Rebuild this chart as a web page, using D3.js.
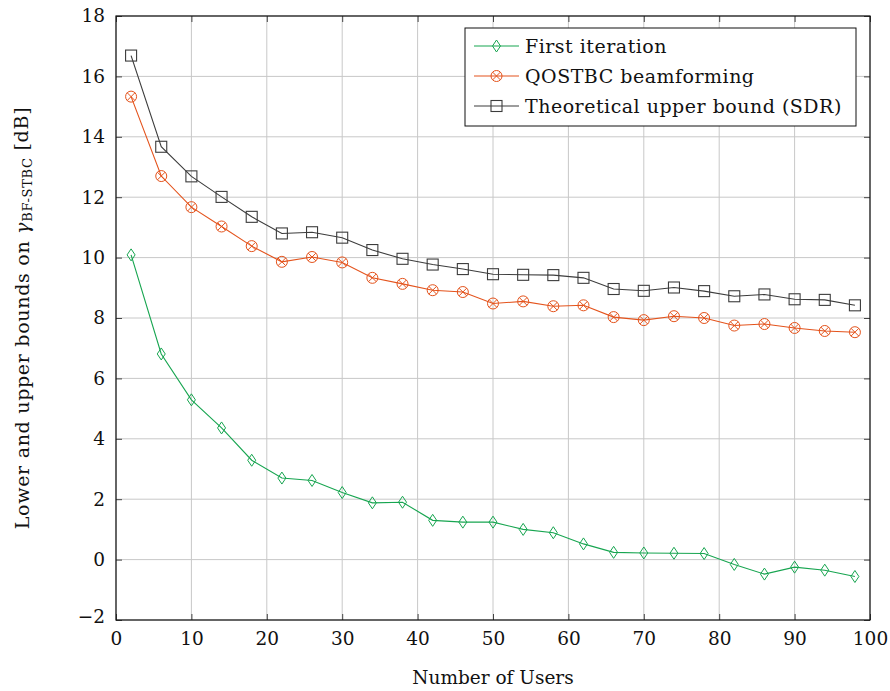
<!DOCTYPE html>
<html>
<head>
<meta charset="utf-8">
<script src="https://cdn.jsdelivr.net/npm/d3@7"></script>
<style>
  body { margin: 0; background: #fff; }
  svg text { font-family: "DejaVu Serif", "Liberation Serif", serif; fill: #111; }
</style>
</head>
<body>
<svg id="chart" width="890" height="691"></svg>
<script>
'use strict';

// number of users on the x axis
const users = [2, 6, 10, 14, 18, 22, 26, 30, 34, 38, 42, 46, 50, 54, 58, 62, 66, 70, 74, 78, 82, 86, 90, 94, 98];

const firstIteration = [10.09, 6.81, 5.29, 4.36, 3.29, 2.70, 2.62, 2.22, 1.88, 1.90, 1.30, 1.24, 1.24,
  1.00, 0.89, 0.52, 0.24, 0.22, 0.21, 0.20, -0.16, -0.48, -0.25, -0.35, -0.56];
const qostbc = [15.33, 12.70, 11.67, 11.03, 10.38, 9.86, 10.02, 9.84, 9.33, 9.13, 8.92, 8.86, 8.48,
  8.55, 8.39, 8.42, 8.03, 7.93, 8.06, 8.00, 7.75, 7.80, 7.67, 7.57, 7.53];
const sdrBound = [16.69, 13.67, 12.69, 12.01, 11.35, 10.80, 10.84, 10.66, 10.25, 9.96, 9.77, 9.62, 9.45,
  9.43, 9.42, 9.33, 8.96, 8.90, 9.01, 8.89, 8.72, 8.78, 8.62, 8.60, 8.42];

const xTicks = [0, 10, 20, 30, 40, 50, 60, 70, 80, 90, 100];
const yTicks = [-2, 0, 2, 4, 6, 8, 10, 12, 14, 16, 18];

const SERIES = [
  {name: 'First iteration', values: firstIteration, color: '#17a550', marker: 'diamond'},
  {name: 'QOSTBC beamforming', values: qostbc, color: '#e4531c', marker: 'otimes'},
  {name: 'Theoretical upper bound (SDR)', values: sdrBound, color: '#3c3c3c', marker: 'square'}
];

const svg = d3.select('#chart');
const M = {left: 116, right: 20, top: 16, bottom: 71};
const W = 890 - M.left - M.right;
const H = 691 - M.top - M.bottom;

const x = d3.scaleLinear().domain([0, 100]).range([0, W]);
const y = d3.scaleLinear().domain([-2, 18]).range([H, 0]);

const g = svg.append('g').attr('transform', 'translate(' + M.left + ',' + M.top + ')');

// grid
g.append('g').selectAll('line').data(xTicks).join('line')
  .attr('x1', d => x(d)).attr('x2', d => x(d)).attr('y1', 0).attr('y2', H)
  .attr('stroke', '#c8c8c8').attr('stroke-width', 1);
g.append('g').selectAll('line').data(yTicks).join('line')
  .attr('y1', d => y(d)).attr('y2', d => y(d)).attr('x1', 0).attr('x2', W)
  .attr('stroke', '#c8c8c8').attr('stroke-width', 1);

// axes, ticks pointing inward
const fmt = d => d < 0 ? '\u2212' + Math.abs(d) : String(d);
const xAxis = g.append('g').attr('transform', 'translate(0,' + H + ')')
  .call(d3.axisBottom(x).tickValues(xTicks).tickSize(-6).tickPadding(12).tickFormat(fmt));
const yAxis = g.append('g')
  .call(d3.axisLeft(y).tickValues(yTicks).tickSize(-6).tickPadding(11).tickFormat(fmt));
g.append('g').call(d3.axisTop(x).tickValues(xTicks).tickSize(-6).tickFormat(''));
g.append('g').attr('transform', 'translate(' + W + ',0)')
  .call(d3.axisRight(y).tickValues(yTicks).tickSize(-6).tickFormat(''));
g.selectAll('.domain').remove();
g.selectAll('.tick line').attr('stroke', '#444');
xAxis.selectAll('text').attr('font-size', 18.5);
yAxis.selectAll('text').attr('font-size', 18.5);
yAxis.selectAll('.tick').filter(d => d === -2).select('text').attr('dy', '0.15em');

g.append('rect').attr('width', W).attr('height', H)
  .attr('fill', 'none').attr('stroke', '#111').attr('stroke-width', 1.2);

// markers, open like pgfplots
function drawMarker(sel, type, color) {
  if (type === 'diamond') {
    sel.append('path').attr('d', 'M0,-6L4,0L0,6L-4,0Z')
      .attr('fill', 'none').attr('stroke', color).attr('stroke-width', 1);
  } else if (type === 'otimes') {
    sel.append('circle').attr('r', 5.5).attr('fill', 'none').attr('stroke', color).attr('stroke-width', 1);
    sel.append('path').attr('d', 'M-3.9,-3.9L3.9,3.9M-3.9,3.9L3.9,-3.9')
      .attr('stroke', color).attr('stroke-width', 1);
  } else {
    sel.append('rect').attr('x', -5.5).attr('y', -5.5).attr('width', 11).attr('height', 11)
      .attr('fill', 'none').attr('stroke', color).attr('stroke-width', 1.1);
  }
}

const line = d3.line().x(d => x(d[0])).y(d => y(d[1]));

SERIES.forEach(s => {
  const pts = users.map((u, i) => [u, s.values[i]]);
  g.append('path').attr('d', line(pts))
    .attr('fill', 'none').attr('stroke', s.color).attr('stroke-width', 1.1);
  g.append('g').selectAll('g').data(pts).join('g')
    .attr('transform', d => 'translate(' + x(d[0]) + ',' + y(d[1]) + ')')
    .each(function () { drawMarker(d3.select(this), s.marker, s.color); });
});

// legend
const legend = svg.append('g').attr('transform', 'translate(465,28)');
legend.append('rect').attr('width', 391).attr('height', 98)
  .attr('fill', '#fff').attr('stroke', '#111').attr('stroke-width', 1);
SERIES.forEach((s, i) => {
  const row = legend.append('g').attr('transform', 'translate(0,' + (18 + i * 30) + ')');
  row.append('line').attr('x1', 9).attr('x2', 54)
    .attr('stroke', s.color).attr('stroke-width', 1.1);
  drawMarker(row.append('g').attr('transform', 'translate(31.5,0)'), s.marker, s.color);
  row.append('text').attr('x', 60).attr('dy', '0.35em').attr('font-size', 19)
    .attr('letter-spacing', 0.5).text(s.name);
});

// axis labels
svg.append('text').attr('x', M.left + W / 2).attr('y', 684)
  .attr('text-anchor', 'middle').attr('font-size', 18.5).text('Number of Users');

const yl = svg.append('text')
  .attr('transform', 'translate(29,' + (M.top + H / 2) + ') rotate(-90)')
  .attr('text-anchor', 'middle').attr('font-size', 19).attr('letter-spacing', 0.7);
yl.append('tspan').text('Lower and upper bounds on ');
yl.append('tspan').attr('font-style', 'italic').text('\u03b3');
yl.append('tspan').attr('font-size', 13).attr('dy', '0.25em').text('BF-STBC');
yl.append('tspan').attr('dy', '-0.2em').text(' [dB]');
</script>
</body>
</html>
